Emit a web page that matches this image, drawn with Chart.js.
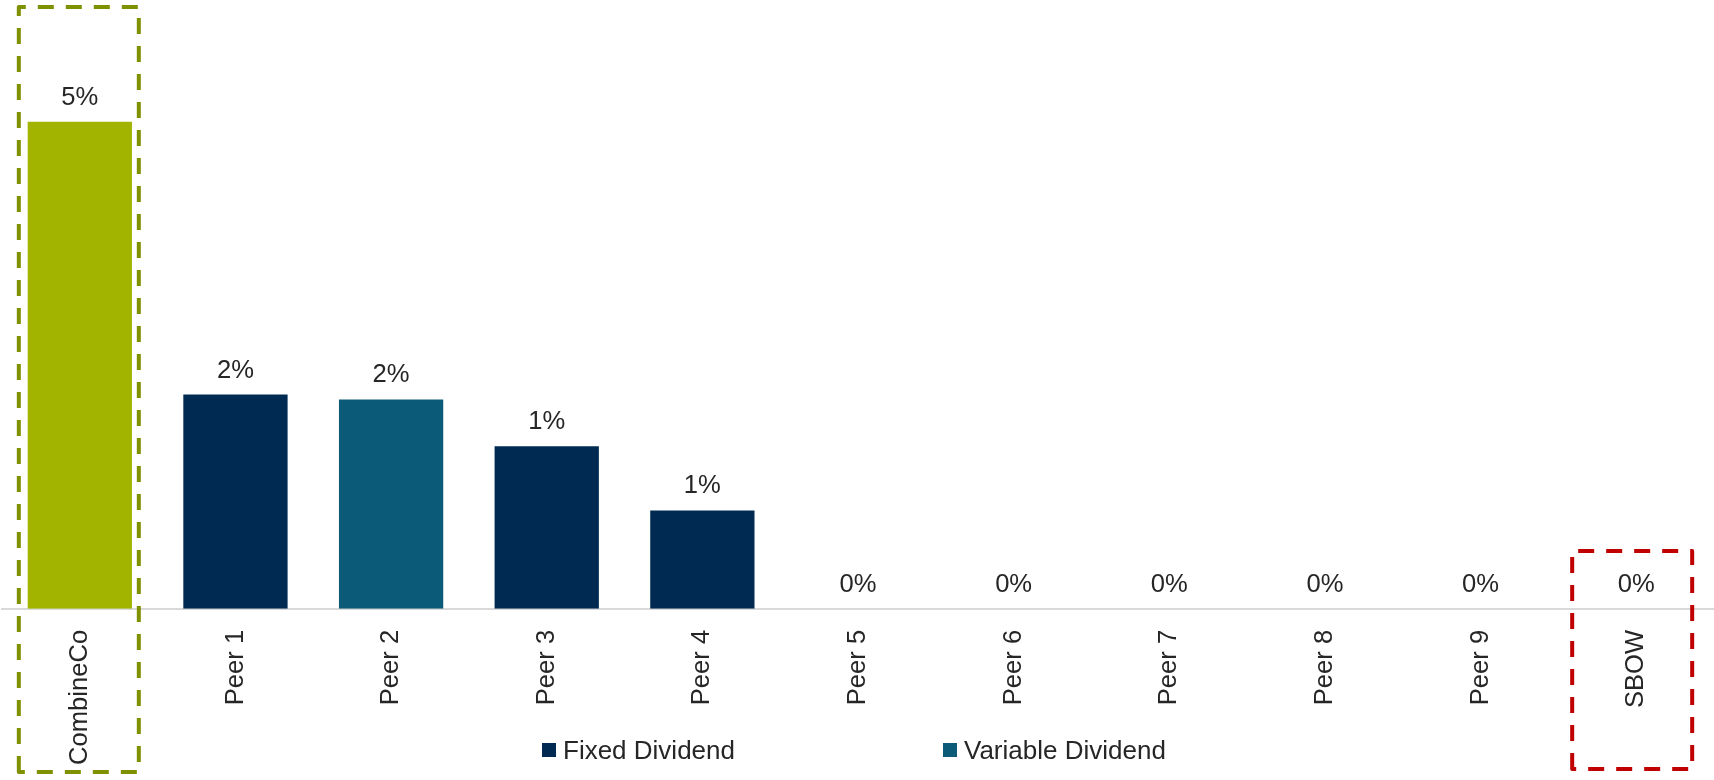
<!DOCTYPE html>
<html><head><meta charset="utf-8">
<script src="https://cdn.jsdelivr.net/npm/chart.js@4.4.0/dist/chart.umd.min.js"></script>
<style>
html,body{margin:0;padding:0;background:#fff;}
#wrap{position:relative;width:1714px;height:780px;overflow:hidden;}
canvas{display:block;}
.leg{position:absolute;top:734px;display:flex;align-items:center;white-space:nowrap;font-family:'Liberation Sans',Arial,sans-serif;font-size:26px;color:#262626;line-height:32px;}
.leg i{display:inline-block;width:14px;height:14px;margin-right:7px;}
</style></head>
<body><div id="wrap"><canvas id="c" width="1714" height="780"></canvas></div>
<script>
// ---- data ----
const categories = ['CombineCo','Peer 1','Peer 2','Peer 3','Peer 4','Peer 5','Peer 6','Peer 7','Peer 8','Peer 9','SBOW'];
const combineCoYield = [5.0, null, null, null, null, null, null, null, null, null, null];
const fixedDividend = [null, 2.2, null, 1.67, 1.01, 0, 0, 0, 0, 0, 0];
const variableDividend = [null, null, 2.15, null, null, null, null, null, null, null, null];
const legendNames = ['Fixed Dividend', 'Variable Dividend'];

const GREEN = '#A3B400', GREEN_BOX = '#7F9000', NAVY = '#002A51', TEAL = '#0A5A78', RED = '#C00000', TXT = '#262626';
const FONT = "'Liberation Sans', Arial, sans-serif";

const valueLabels = {
  id: 'valueLabels',
  afterDatasetsDraw(chart) {
    const ctx = chart.ctx;
    ctx.save();
    ctx.font = '25.6px ' + FONT;
    ctx.fillStyle = TXT;
    ctx.textAlign = 'center';
    ctx.textBaseline = 'alphabetic';
    chart.data.datasets.forEach((ds, di) => {
      const meta = chart.getDatasetMeta(di);
      meta.data.forEach((bar, i) => {
        const v = ds.data[i];
        if (v === null || v === undefined) return;
        ctx.fillText(Math.floor(v) + '%', bar.x, bar.y - 17);
      });
    });
    ctx.restore();
  }
};

const dashedBoxes = {
  id: 'dashedBoxes',
  afterDraw(chart) {
    const ctx = chart.ctx, xs = chart.scales.x;
    const box = (cx, top, bottom, color) => {
      const l = cx - 60, r = cx + 60;
      ctx.save();
      ctx.strokeStyle = color;
      ctx.lineWidth = 4;
      ctx.lineJoin = 'round';
      ctx.setLineDash([16, 12]);
      ctx.beginPath();
      ctx.moveTo(l, bottom);
      ctx.lineTo(l, top);
      ctx.lineTo(r, top);
      ctx.lineTo(r, bottom);
      ctx.closePath();
      ctx.stroke();
      ctx.restore();
    };
    box(xs.getPixelForValue(0) - 1, 7, 772, GREEN_BOX);
    box(xs.getPixelForValue(categories.length - 1) - 4, 551, 769, RED);
  }
};

new Chart(document.getElementById('c'), {
  type: 'bar',
  data: {
    labels: categories,
    datasets: [
      { label: 'CombineCo', data: combineCoYield, backgroundColor: GREEN },
      { label: legendNames[0], data: fixedDividend, backgroundColor: NAVY },
      { label: legendNames[1], data: variableDividend, backgroundColor: TEAL }
    ]
  },
  options: {
    responsive: false,
    devicePixelRatio: 1,
    animation: false,
    barPercentage: 0.67,
    categoryPercentage: 1,
    layout: { padding: { left: 2, right: 0, top: 0, bottom: 2 } },
    plugins: { legend: { display: false }, tooltip: { enabled: false } },
    scales: {
      x: {
        stacked: true,
        grid: { display: false },
        border: { display: true, color: '#D9D9D9', width: 2 },
        ticks: { color: TXT, font: { family: FONT, size: 25.6 }, minRotation: 90, maxRotation: 90, padding: 13, autoSkip: false }
      },
      y: { stacked: true, display: false, min: 0, max: 6.25 }
    }
  },
  plugins: [valueLabels, dashedBoxes]
});

// legend (HTML text)
const legColors = [NAVY, TEAL];
const legLeft = [542, 943];
legendNames.forEach((n, i) => {
  const d = document.createElement('div');
  d.className = 'leg';
  d.style.left = legLeft[i] + 'px';
  const sw = document.createElement('i');
  sw.style.background = legColors[i];
  d.appendChild(sw);
  const t = document.createElement('span');
  t.textContent = n;
  d.appendChild(t);
  document.getElementById('wrap').appendChild(d);
});
</script>
</body></html>
